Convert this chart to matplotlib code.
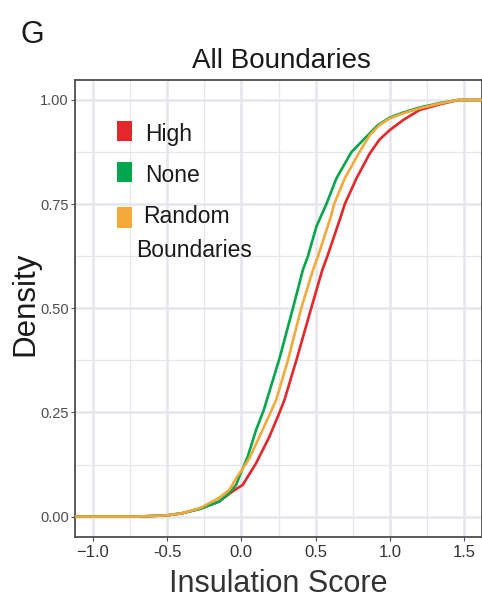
import matplotlib
matplotlib.use("Agg")
import matplotlib.pyplot as plt
from matplotlib.patches import Rectangle

plt.rcParams['font.family'] = ['Liberation Sans', 'DejaVu Sans']

# ---- data ----
series_names = ["High", "None", "Random\nBoundaries"]

high_x = [-1.12, -0.70, -0.50, -0.40, -0.28, -0.15, -0.08, -0.036, 0.009, 0.099, 0.189, 0.257, 0.290,
          0.370, 0.470, 0.545, 0.579, 0.673, 0.696, 0.775, 0.865, 0.930, 1.000, 1.090, 1.200, 1.340,
          1.460, 1.620]
high_y = [0, 0, 0.003, 0.008, 0.019, 0.036, 0.055, 0.066, 0.076, 0.128, 0.192, 0.250, 0.280,
          0.375, 0.500, 0.592, 0.625, 0.724, 0.750, 0.812, 0.872, 0.905, 0.928, 0.952, 0.976, 0.990,
          1.000, 1.000]

none_x = [-1.12, -0.70, -0.50, -0.40, -0.28, -0.15, -0.08, -0.036, 0.000, 0.043, 0.099, 0.151, 0.257,
          0.347, 0.414, 0.448, 0.505, 0.572, 0.640, 0.741, 0.842, 0.920, 1.000, 1.090, 1.200, 1.340,
          1.460, 1.620]
none_y = [0, 0, 0.003, 0.008, 0.018, 0.036, 0.057, 0.076, 0.108, 0.144, 0.208, 0.256, 0.380,
          0.500, 0.592, 0.625, 0.696, 0.750, 0.812, 0.875, 0.912, 0.940, 0.958, 0.970, 0.982, 0.993,
          1.000, 1.000]

random_x = [-1.12, -0.70, -0.50, -0.40, -0.28, -0.15, -0.081, -0.025, 0.000, 0.054, 0.122, 0.189, 0.234,
            0.313, 0.403, 0.482, 0.516, 0.606, 0.624, 0.696, 0.795, 0.865, 0.930, 1.000, 1.090, 1.200,
            1.340, 1.460, 1.620]
random_y = [0, 0, 0.003, 0.008, 0.020, 0.045, 0.064, 0.098, 0.110, 0.140, 0.192, 0.244, 0.280,
            0.375, 0.500, 0.592, 0.625, 0.724, 0.750, 0.812, 0.875, 0.916, 0.940, 0.956, 0.968, 0.980,
            0.992, 1.000, 1.000]

x_ticks = [-1.0, -0.5, 0.0, 0.5, 1.0, 1.5]
x_tick_labels = ["\u22121.0", "-0.5", "0.0", "0.5", "1.0", "1.5"]
y_ticks = [0.0, 0.25, 0.5, 0.75, 1.0]
y_tick_labels = ["0.00", "0.25", "0.50", "0.75", "1.00"]

colors = ["#E5262B", "#03A64D", "#F4AA3A"]

# ---- figure ----
W, H = 482, 600
fig = plt.figure(figsize=(W / 100, H / 100), dpi=100)

def fx(px):
    return px / W

def fy(py):
    return 1 - py / H

ax_left, ax_right, ax_top, ax_bottom = 75, 482, 80, 537
ax = fig.add_axes([fx(ax_left), fy(ax_bottom), fx(ax_right - ax_left), (ax_bottom - ax_top) / H])

ax.set_xlim(-1.12, 1.62)
ax.set_ylim(-0.049, 1.048)

# grid
grid_col = "#E6E6EC"
ax.set_xticks(x_ticks)
ax.set_xticklabels(x_tick_labels)
ax.set_yticks(y_ticks)
ax.set_yticklabels(y_tick_labels)
ax.set_xticks([-0.75, -0.25, 0.25, 0.75, 1.25], minor=True)
ax.set_yticks([0.125, 0.375, 0.625, 0.875], minor=True)
ax.grid(which="major", color=grid_col, linewidth=1.8, zorder=0)
ax.grid(which="minor", color=grid_col, linewidth=0.9, zorder=0)
ax.set_axisbelow(True)

ax.tick_params(which="minor", length=0)
ax.tick_params(axis="y", which="major", length=3, width=0.8, color="#4D4D4D",
               labelsize=10.5, labelcolor="#4D4D4D", pad=1.5)
ax.tick_params(axis="x", which="major", length=3, width=0.8, color="#4D4D4D",
               labelsize=12, labelcolor="#333333", pad=3)

for sp in ax.spines.values():
    sp.set_color("#4D4D4D")
    sp.set_linewidth(1.3)

# curves
ax.plot(high_x, high_y, color=colors[0], linewidth=1.9, zorder=3)
ax.plot(none_x, none_y, color=colors[1], linewidth=1.9, zorder=4)
ax.plot(random_x, random_y, color=colors[2], linewidth=1.9, zorder=5)

# axis labels
ax.set_xlabel("Insulation Score", fontsize=22, color="#333333", va="center")
ax.xaxis.set_label_coords(0.5, (ax_bottom - 584) / (ax_bottom - ax_top))
ax.set_ylabel("Density", fontsize=22.5, color="#1A1A1A", va="center")
ax.yaxis.set_label_coords((25 - ax_left) / (ax_right - ax_left), 0.51)

# title and panel letter
fig.text(fx(281), fy(68), "All Boundaries", fontsize=20, ha="center", va="baseline", color="#1A1A1A")
fig.text(fx(21), fy(43), "G", fontsize=22, ha="left", va="baseline", color="#1A1A1A")

# legend (drawn as patches + text)
leg_rows = [(121, 141, 145, 140.7), (162, 182, 145, 181.7), (207, 228, 143, 223)]
for (top, bot, tx, tb), c, name in zip(leg_rows, colors, series_names):
    fig.add_artist(Rectangle((fx(117), fy(bot)), fx(15), (bot - top) / H,
                             transform=fig.transFigure, facecolor=c, edgecolor="none", zorder=10))
    first = name.split("\n")[0]
    fig.text(fx(tx), fy(tb), first, fontsize=16.5, ha="left", va="baseline", color="#1A1A1A", zorder=11)
    if "\n" in name:
        fig.text(fx(136), fy(256.7), name.split("\n")[1], fontsize=16.5, ha="left",
                 va="baseline", color="#1A1A1A", zorder=11)

fig.savefig("out.png", dpi=100)
